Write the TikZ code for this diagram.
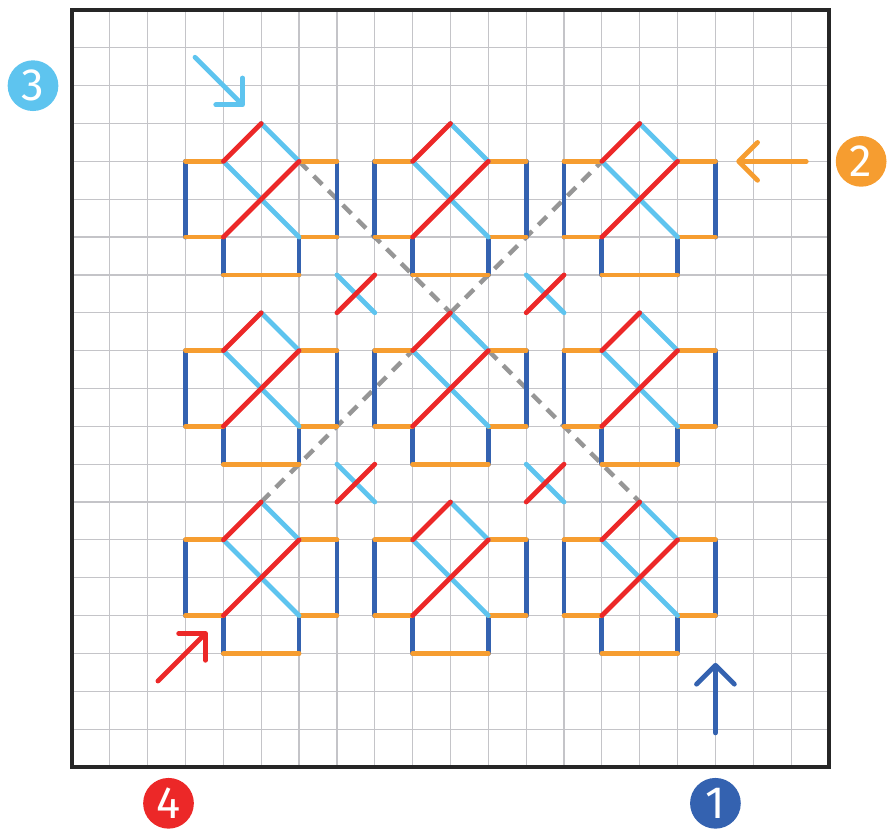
\documentclass[tikz,border=0pt]{standalone}
\usepackage{fontspec}
\newfontfamily\badgefont{Fira Sans}
\usepackage{tikz}
\usetikzlibrary{arrows.meta,calc}

\definecolor{segorange}{RGB}{246,157,48}
\definecolor{segblue}{RGB}{52,98,176}
\definecolor{segred}{RGB}{236,40,40}
\definecolor{segcyan}{RGB}{94,196,239}
\definecolor{guidegray}{RGB}{150,150,150}
\definecolor{gridgray}{RGB}{196,196,200}

\begin{document}
\begin{tikzpicture}[
    gridline/.style={draw=gridgray, line width=0.9pt},
    frameline/.style={draw=black!85, line width=2.6pt},
    orangebar/.style={draw=segorange, line width=3.6pt, line cap=round},
    bluebar/.style={draw=segblue, line width=3.6pt, line cap=round},
    redstroke/.style={draw=segred, line width=3.6pt, line cap=round},
    cyanstroke/.style={draw=segcyan, line width=3.6pt, line cap=round},
    guideline/.style={draw=guidegray, line width=3.4pt, dash pattern=on 9pt off 6.5pt},
    pointer/.style={line width=3.6pt, line cap=round, line join=round, -{Straight Barb[length=5mm, width=10mm, round]}},
    badge/.style={circle, minimum size=1.34cm, inner sep=0pt, text=white, font=\badgefont\fontsize{34}{34}\selectfont},
    motif/.pic={
        \draw[bluebar] (-2,-1) -- (-2,-3) (2,-1) -- (2,-3) (-1,-3) -- (-1,-4) (1,-3) -- (1,-4);
        \draw[orangebar] (-2,-1) -- (-1,-1) (1,-1) -- (2,-1) (-2,-3) -- (-1,-3) (1,-3) -- (2,-3) (-1,-4) -- (1,-4);
        \draw[cyanstroke] (0,0) -- (1,-1) (-1,-1) -- (1,-3);
        \draw[redstroke] (-1,-1) -- (0,0) (-1,-3) -- (1,-1);
    }
]
\useasboundingbox (-1.902,-1.638) rectangle (21.586,20.264);

% grid and frame
\draw[gridline] (0,0) grid (20,20);

% diagonal guides
\draw[guideline] (6,16) -- (15,7);
\draw[guideline] (5,7) -- (14,16);

% the nine motifs
\pic at (5,17) {motif};
\pic at (10,17) {motif};
\pic at (15,17) {motif};
\pic at (5,12) {motif};
\pic at (10,12) {motif};
\pic at (15,12) {motif};
\pic at (5,7) {motif};
\pic at (10,7) {motif};
\pic at (15,7) {motif};

% small crosses
\draw[cyanstroke] (7,13) -- (8,12) (12,13) -- (13,12) (7,8) -- (8,7) (12,8) -- (13,7);
\draw[redstroke] (7,12) -- (8,13) (12,12) -- (13,13) (7,7) -- (8,8) (12,7) -- (13,8);

\draw[frameline] (0,0) rectangle (20,20);

% entry arrows
\coordinate (from3) at (3.25,18.75);
\coordinate (to3) at (4.55,17.45);
\coordinate (from2) at (19.4,16);
\coordinate (to2) at (17.55,16);
\coordinate (from4) at (2.27,2.27);
\coordinate (to4) at (3.57,3.57);
\coordinate (from1) at (17,0.9);
\coordinate (to1) at (17,2.75);

\draw[pointer, segcyan] (from3) -- (to3);
\draw[pointer, segorange] (from2) -- (to2);
\draw[pointer, segred] (from4) -- (to4);
\draw[pointer, segblue] (from1) -- (to1);

% numbered badges
\node[badge, fill=segblue] (one) at (17,-0.96) {1};
\node[badge, fill=segorange] (two) at (20.85,16) {2};
\node[badge, fill=segcyan] (three) at (-1.03,18) {3};
\node[badge, fill=segred] (four) at (2.55,-0.96) {4};

\end{tikzpicture}
\end{document}
